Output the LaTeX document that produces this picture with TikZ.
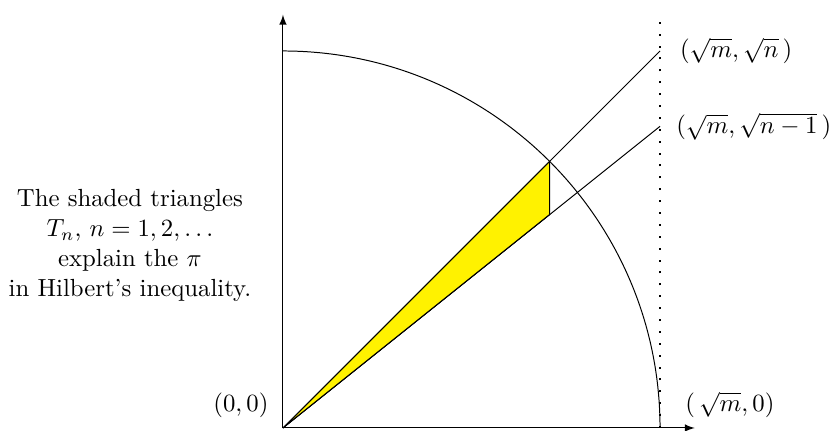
\documentclass[tikz,border=0pt]{standalone}
\usepackage{amsmath, amssymb}
\usetikzlibrary{arrows.meta, calc}

\begin{document}
\begin{tikzpicture}[>=latex, scale=1.07,
    axis/.style={->},
    ray/.style={black},
    dotline/.style={thick, loosely dotted},
    tri/.style={fill=yellow, draw=black}]
  \useasboundingbox (-3.753,-0.027) rectangle (7.255,5.676);
  % points
  \coordinate (O) at (0,0);
  \coordinate (X) at (5.46,0);
  \coordinate (Y) at (0,5.48);
  \coordinate (M) at (5,0);
  \coordinate (Mtop) at (5,5.48);
  \coordinate (U) at (5,5);
  \coordinate (L) at (5,4);
  \coordinate (A) at (45:5);
  % same x as A, on the lower ray
  \coordinate (B) at ($(O)!0.70711!(L)$);
  % shaded triangle
  \filldraw[tri] (O) -- (A) -- (B) -- cycle;
  % axes
  \draw[axis] (O) -- (X);
  \draw[axis] (O) -- (Y);
  % quarter circle
  \draw (M) arc (0:90:5);
  % rays
  \draw[ray] (O) -- (U);
  \draw[ray] (O) -- (L);
  % dotted line x = sqrt(m)
  \draw[dotline] (M) -- (Mtop);
  % labels
  \node[anchor=west] (lu) at (5.15,5) {$(\sqrt{m},\sqrt{n}\,)$};
  \node[anchor=west] (ll) at (5.10,4) {$(\sqrt{m},\sqrt{n-1}\,)$};
  \node[anchor=west] (lm) at (5.22,0.305) {$(\,\sqrt{m},0)$};
  \node (lo) at (-0.557,0.305) {$(0,0)$};
  \node[align=center] (txt) at (-2.03,2.42)
    {The shaded triangles\\ $T_n$, $n=1,2,\ldots$\\ explain the $\pi$\\ in Hilbert's inequality.};
\end{tikzpicture}
\end{document}
